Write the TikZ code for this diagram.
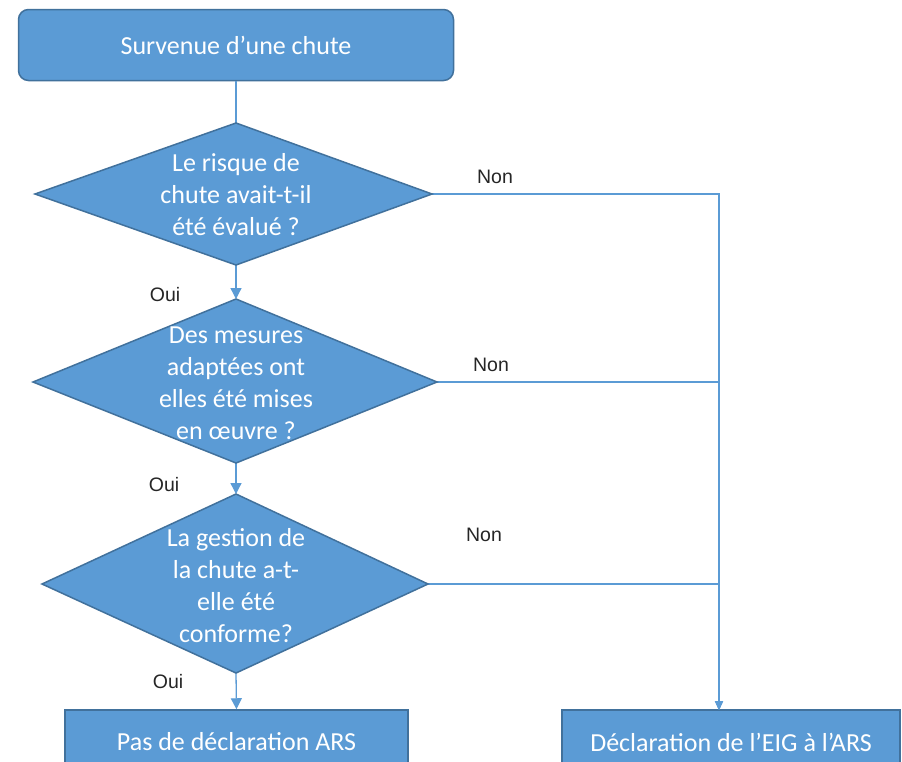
\documentclass[tikz,border=0pt]{standalone}
\usepackage{fontspec}
\setmainfont{Carlito}
\newfontfamily\lblfont{Liberation Sans}
\usetikzlibrary{arrows.meta}
\definecolor{boxfill}{HTML}{5B9BD5}
\definecolor{boxedge}{HTML}{41719C}
\definecolor{linecol}{HTML}{5B9BD5}
\begin{document}
\begin{tikzpicture}[x=1pt,y=-1pt,
  box/.style={draw=boxedge, fill=boxfill, line width=1.5pt},
  boxtext/.style={text=white, font=\fontsize{26}{32}\selectfont, align=center, inner sep=0pt},
  lbl/.style={font=\lblfont\fontsize{19.5}{22}\selectfont, text=black!85, inner sep=0pt},
  conn/.style={draw=linecol, line width=1.3pt},
  arr/.style={conn, -{Triangle[length=11pt,width=11pt]}},
  sarr/.style={conn, -{Triangle[length=9pt,width=8pt]}}]
\clip (0,0) rectangle (902,761);
\fill[white] (0,0) rectangle (902,761);

% coordinates of the decision shapes
\coordinate (d1t) at (236,123); \coordinate (d1r) at (432,194);
\coordinate (d1b) at (236,265); \coordinate (d1l) at (35,194);
\coordinate (d2t) at (236,299); \coordinate (d2r) at (437,382);
\coordinate (d2b) at (236,463); \coordinate (d2l) at (33,382);
\coordinate (d3t) at (236,494); \coordinate (d3r) at (428,584);
\coordinate (d3b) at (236,673); \coordinate (d3l) at (42,584);
\coordinate (rin) at (719,710);

% top box
\node[box, boxtext, rounded corners=10pt, minimum width=435pt, minimum height=71pt] (start) at (236,45) {Survenue d’une chute};

% bottom boxes
\node[box, boxtext, minimum width=343pt, minimum height=64pt] (nodecl) at (236.5,742) {Pas de déclaration ARS};
\node[box, boxtext, minimum width=338pt, minimum height=64pt] (decl) at (731,742) {Déclaration de l’EIG à l’ARS};

% connectors
\draw[conn] (start.south) -- (d1t);
\draw[arr] (d1b) -- (d2t);
\draw[arr] (d2b) -- (d3t);
\draw[arr] (d3b) -- (nodecl.north);
\draw[sarr] (d1r) -| (rin);
\draw[sarr] (d2r) -| (rin);
\draw[sarr] (d3r) -| (rin);

% decision shapes
\path[box] (d1t) -- (d1r) -- (d1b) -- (d1l) -- cycle;
\path[box] (d2t) -- (d2r) -- (d2b) -- (d2l) -- cycle;
\path[box] (d3t) -- (d3r) -- (d3b) -- (d3l) -- cycle;
\node[boxtext] (q1) at (236,195) {Le risque de\\chute avait-t-il\\été évalué ?};
\node[boxtext] (q2) at (236,383) {Des mesures\\adaptées ont\\elles été mises\\en œuvre ?};
\node[boxtext] (q3) at (236,586) {La gestion de\\la chute a-t-\\elle été\\conforme?};

% labels
\node[lbl] (oui1) at (165,295) {Oui};
\node[lbl] (oui2) at (164,485) {Oui};
\node[lbl] (oui3) at (168,682) {Oui};
\node[lbl] (non1) at (495,177) {Non};
\node[lbl] (non2) at (491,365) {Non};
\node[lbl] (non3) at (484,535) {Non};
\end{tikzpicture}
\end{document}
